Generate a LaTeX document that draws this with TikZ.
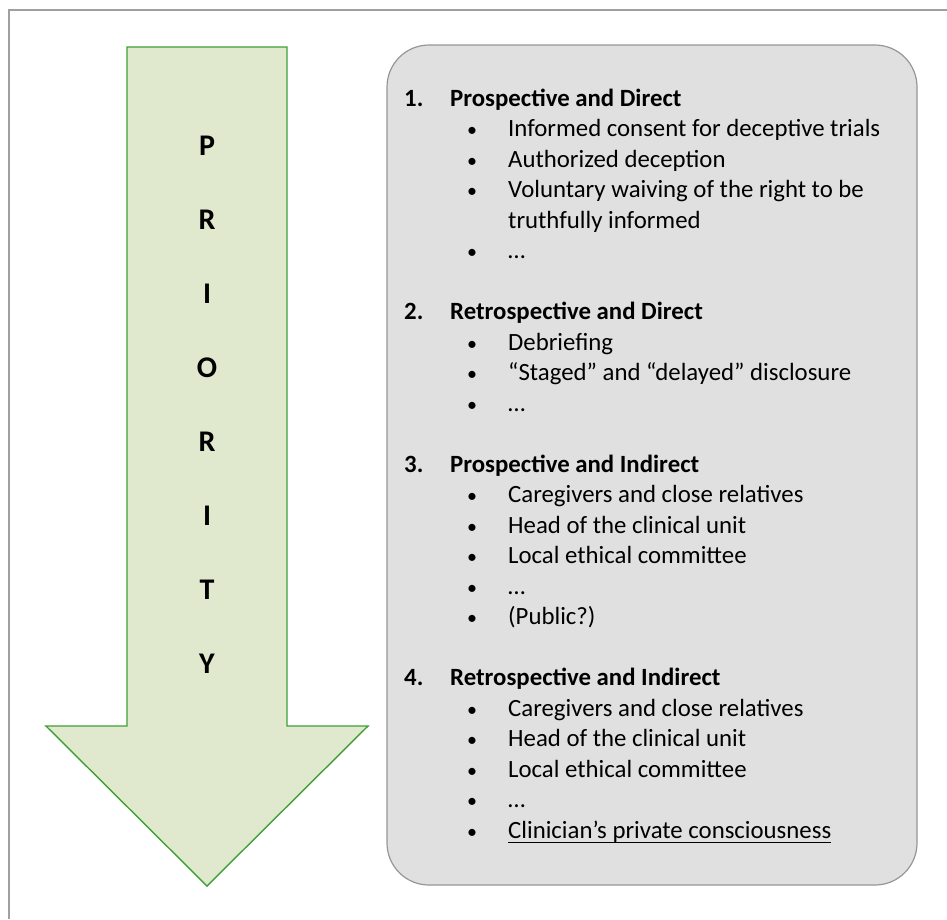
\documentclass[tikz,border=0pt]{standalone}
\usepackage{fontspec}
\setmainfont{Carlito}
\usetikzlibrary{positioning}
\definecolor{arrowfill}{RGB}{224,233,205}
\definecolor{arrowline}{RGB}{62,160,52}
\definecolor{panelfill}{RGB}{224,224,224}
\definecolor{panelline}{RGB}{150,150,150}
\definecolor{frameline}{RGB}{160,160,160}
\newcommand{\PriorityPitch}{30.5}
\newcommand{\PriorityLetterPitch}{74}
\tikzset{
	entry/.style={inner sep=0pt, font=\fontsize{24.8}{30}\selectfont},
	head/.style={inner sep=0pt, font=\fontsize{24.8}{30}\selectfont\bfseries},
	dot/.style={inner sep=0pt, font=\fontsize{20}{24}\selectfont},
	letter/.style={inner sep=0pt, font=\fontsize{30}{36}\selectfont\bfseries},
}

\begin{document}
\begin{tikzpicture}[x=1pt, y=-1pt]
		\useasboundingbox (0,0) rectangle (947,919);
		\draw[frameline, line width=2pt] (9,919) -- (9,10) -- (947,10);
		\draw[arrowline, fill=arrowfill, line width=1.4pt, line join=miter] (127,47) -- (287,47) -- (287,726) -- (368,726) -- (207,886) -- (46,726) -- (127,726) -- cycle;
		\draw[panelline, fill=panelfill, line width=1.2pt, rounded corners=42pt] (387,45) rectangle (917,885);
		% the word down the arrow
		\node[letter, anchor=base] (p1) at (207,155) {P};
		\node[letter, below=\PriorityLetterPitch pt of p1.base, anchor=base] (p2) {R};
		\node[letter, below=\PriorityLetterPitch pt of p2.base, anchor=base] (p3) {I};
		\node[letter, below=\PriorityLetterPitch pt of p3.base, anchor=base] (p4) {O};
		\node[letter, below=\PriorityLetterPitch pt of p4.base, anchor=base] (p5) {R};
		\node[letter, below=\PriorityLetterPitch pt of p5.base, anchor=base] (p6) {I};
		\node[letter, below=\PriorityLetterPitch pt of p6.base, anchor=base] (p7) {T};
		\node[letter, below=\PriorityLetterPitch pt of p7.base, anchor=base] (p8) {Y};
		% 1.
		\node[head, anchor=base west] (s1) at (450,106) {Prospective and Direct};
		\node[head, left=46pt of s1.base west, anchor=base west] (n1) {1.};
		\node[entry, below right=\PriorityPitch pt and 58pt of s1.base west, anchor=base west] (s1a) {Informed consent for deceptive trials};
		\node[entry, below=\PriorityPitch pt of s1a.base west, anchor=base west] (s1b) {Authorized deception};
		\node[entry, below=\PriorityPitch pt of s1b.base west, anchor=base west] (s1c) {Voluntary waiving of the right to be};
		\node[entry, below=\PriorityPitch pt of s1c.base west, anchor=base west] (s1d) {truthfully informed};
		\node[entry, below=\PriorityPitch pt of s1d.base west, anchor=base west] (s1e) {…};
		\node[dot, left=36pt of s1a.base west, anchor=base] (d1a) {•};
		\node[dot, left=36pt of s1b.base west, anchor=base] (d1b) {•};
		\node[dot, left=36pt of s1c.base west, anchor=base] (d1c) {•};
		\node[dot, left=36pt of s1e.base west, anchor=base] (d1e) {•};
		% 2.
		\node[head, below left=\PriorityPitch*2 pt and 58pt of s1e.base west, anchor=base west] (s2) {Retrospective and Direct};
		\node[head, left=46pt of s2.base west, anchor=base west] (n2) {2.};
		\node[entry, below right=\PriorityPitch pt and 58pt of s2.base west, anchor=base west] (s2a) {Debriefing};
		\node[entry, below=\PriorityPitch pt of s2a.base west, anchor=base west] (s2b) {“Staged” and “delayed” disclosure};
		\node[entry, below=\PriorityPitch pt of s2b.base west, anchor=base west] (s2c) {…};
		\node[dot, left=36pt of s2a.base west, anchor=base] (d2a) {•};
		\node[dot, left=36pt of s2b.base west, anchor=base] (d2b) {•};
		\node[dot, left=36pt of s2c.base west, anchor=base] (d2c) {•};
		% 3.
		\node[head, below left=\PriorityPitch*2 pt and 58pt of s2c.base west, anchor=base west] (s3) {Prospective and Indirect};
		\node[head, left=46pt of s3.base west, anchor=base west] (n3) {3.};
		\node[entry, below right=\PriorityPitch pt and 58pt of s3.base west, anchor=base west] (s3a) {Caregivers and close relatives};
		\node[entry, below=\PriorityPitch pt of s3a.base west, anchor=base west] (s3b) {Head of the clinical unit};
		\node[entry, below=\PriorityPitch pt of s3b.base west, anchor=base west] (s3c) {Local ethical committee};
		\node[entry, below=\PriorityPitch pt of s3c.base west, anchor=base west] (s3d) {…};
		\node[entry, below=\PriorityPitch pt of s3d.base west, anchor=base west] (s3e) {(Public?)};
		\node[dot, left=36pt of s3a.base west, anchor=base] (d3a) {•};
		\node[dot, left=36pt of s3b.base west, anchor=base] (d3b) {•};
		\node[dot, left=36pt of s3c.base west, anchor=base] (d3c) {•};
		\node[dot, left=36pt of s3d.base west, anchor=base] (d3d) {•};
		\node[dot, left=36pt of s3e.base west, anchor=base] (d3e) {•};
		% 4.
		\node[head, below left=\PriorityPitch*2 pt and 58pt of s3e.base west, anchor=base west] (s4) {Retrospective and Indirect};
		\node[head, left=46pt of s4.base west, anchor=base west] (n4) {4.};
		\node[entry, below right=\PriorityPitch pt and 58pt of s4.base west, anchor=base west] (s4a) {Caregivers and close relatives};
		\node[entry, below=\PriorityPitch pt of s4a.base west, anchor=base west] (s4b) {Head of the clinical unit};
		\node[entry, below=\PriorityPitch pt of s4b.base west, anchor=base west] (s4c) {Local ethical committee};
		\node[entry, below=\PriorityPitch pt of s4c.base west, anchor=base west] (s4d) {…};
		\node[entry, below=\PriorityPitch pt of s4d.base west, anchor=base west] (s4e) {Clinician’s private consciousness};
		\node[dot, left=36pt of s4a.base west, anchor=base] (d4a) {•};
		\node[dot, left=36pt of s4b.base west, anchor=base] (d4b) {•};
		\node[dot, left=36pt of s4c.base west, anchor=base] (d4c) {•};
		\node[dot, left=36pt of s4d.base west, anchor=base] (d4d) {•};
		\node[dot, left=36pt of s4e.base west, anchor=base] (d4e) {•};
		\draw[line width=1.6pt] ([yshift=-4.5pt]s4e.base west) -- ([yshift=-4.5pt]s4e.base east);
	\end{tikzpicture}
\end{document}
